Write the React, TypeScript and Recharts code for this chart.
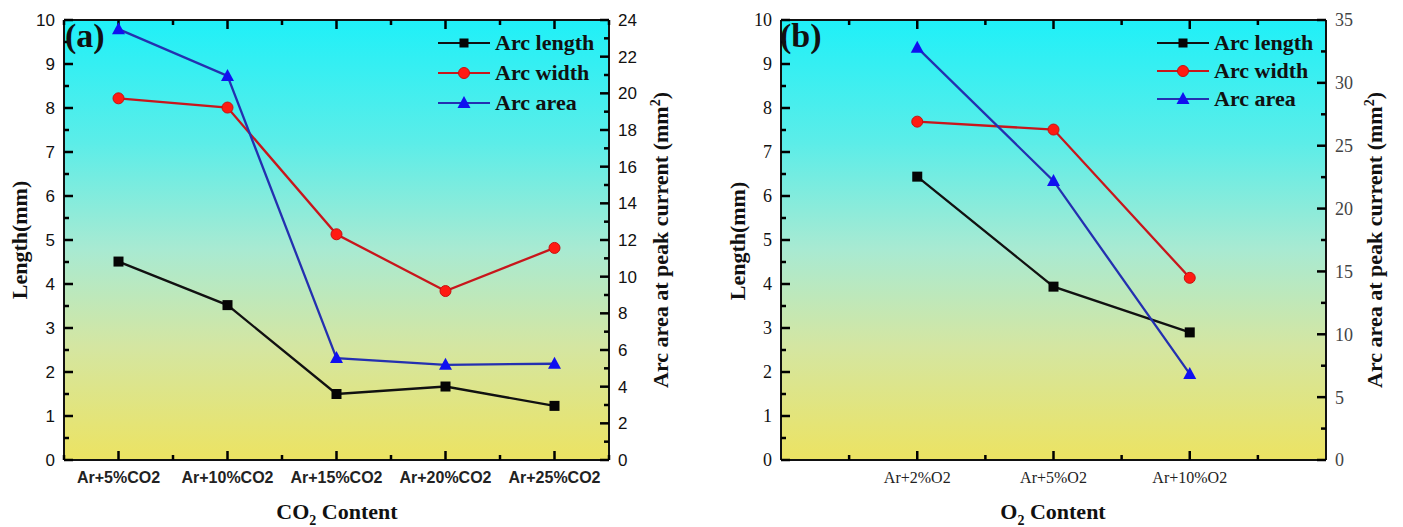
import React from 'react';
import { LineChart, Line, XAxis, YAxis } from 'recharts';

// (a) CO2 series
const co2Categories = ['Ar+5%CO2', 'Ar+10%CO2', 'Ar+15%CO2', 'Ar+20%CO2', 'Ar+25%CO2'];
const co2ArcLength = [4.51, 3.52, 1.5, 1.67, 1.23];
const co2ArcWidth = [8.22, 8.01, 5.13, 3.84, 4.82];
const co2ArcArea = [23.5, 20.95, 5.56, 5.19, 5.25];

// (b) O2 series
const o2Categories = ['Ar+2%O2', 'Ar+5%O2', 'Ar+10%O2'];
const o2ArcLength = [6.44, 3.94, 2.9];
const o2ArcWidth = [7.69, 7.51, 4.14];
const o2ArcArea = [32.8, 22.2, 6.85];

// axis ticks (major carry labels, minor are short marks only)
const lengthMajor = [0, 1, 2, 3, 4, 5, 6, 7, 8, 9, 10];
const lengthMinor = [0.5, 1.5, 2.5, 3.5, 4.5, 5.5, 6.5, 7.5, 8.5, 9.5];
const co2AreaMajor = [0, 2, 4, 6, 8, 10, 12, 14, 16, 18, 20, 22, 24];
const co2AreaMinor = [1, 3, 5, 7, 9, 11, 13, 15, 17, 19, 21, 23];
const o2AreaMajor = [0, 5, 10, 15, 20, 25, 30, 35];
const o2AreaMinor = [2.5, 7.5, 12.5, 17.5, 22.5, 27.5, 32.5];
const co2XMajor = [1, 2, 3, 4, 5];
const co2XMinor = [0.5, 1.5, 2.5, 3.5, 4.5, 5.5];
const o2XMajor = [1, 2, 3];
const o2XMinor = [0.5, 1.5, 2.5, 3.5];

const SANS = "'Liberation Sans', Arial, sans-serif";
const SERIF = "'Liberation Serif', 'Times New Roman', serif";

const co2Data = co2Categories.map((c, i) => ({
  x: i + 1,
  name: c,
  length: co2ArcLength[i],
  width: co2ArcWidth[i],
  area: co2ArcArea[i],
}));
const o2Data = o2Categories.map((c, i) => ({
  x: i + 1,
  name: c,
  length: o2ArcLength[i],
  width: o2ArcWidth[i],
  area: o2ArcArea[i],
}));

const MAJOR = 9;
const MINOR = 5;
const blank = () => '';

const Square = ({ cx, cy, s = 10 }: any) => <rect x={cx - s / 2} y={cy - s / 2} width={s} height={s} fill="#050505" />;
const Circle = ({ cx, cy }: any) => <circle cx={cx} cy={cy} r={5.5} fill="#ff1a12" stroke="#c81010" strokeWidth={1} />;
const Triangle = ({ cx, cy }: any) => (
  <polygon points={`${cx},${cy - 7} ${cx - 6.5},${cy + 5} ${cx + 6.5},${cy + 5}`} fill="#1010f0" />
);

const series = [
  { key: 'length', name: 'Arc length', line: '#111111', axis: 'len', Marker: Square },
  { key: 'width', name: 'Arc width', line: '#c8161c', axis: 'len', Marker: Circle },
  { key: 'area', name: 'Arc area', line: '#2430b0', axis: 'area', Marker: Triangle },
];

function LegendBox({ x, y, rowGap }: { x: number; y: number; rowGap: number }) {
  return (
    <g>
      {series.map((s, i) => {
        const cy = y + i * rowGap;
        const M = s.Marker;
        return (
          <g key={s.key}>
            <line x1={x} x2={x + 52} y1={cy} y2={cy} stroke={s.line} strokeWidth={2.2} />
            <M cx={x + 26} cy={cy} s={9} />
            <text x={x + 57} y={cy} dy="0.33em" style={{ fontFamily: SERIF, fontWeight: 'bold', fontSize: 22, fill: '#111' }}>
              {s.name}
            </text>
          </g>
        );
      })}
    </g>
  );
}

type PanelProps = {
  data: any[];
  labels: string[];
  xDomain: [number, number];
  xMajor: number[];
  xMinor: number[];
  areaMax: number;
  areaMajor: number[];
  areaMinor: number[];
  margin: { top: number; right: number; bottom: number; left: number };
  width: number;
  xFont: any;
  yFont: any;
  rFont: any;
};

const BG = 'linear-gradient(to bottom, #1ff0f8 0%, #5cede8 28%, #a8ead2 52%, #d4e6a2 74%, #ece362 100%)';
const frame = { stroke: '#111', strokeWidth: 2 };
const tickMark = { stroke: '#000', strokeWidth: 2.5 };

// invisible carrier series so that every helper axis has data and draws its ticks
const carriers = [
  { x: 'top', y: 'lenMinor', key: 'length' },
  { x: 'bottomMinor', y: 'areaMinor', key: 'area' },
  { x: 'topMinor', y: 'len', key: 'length' },
];

function Panel(p: PanelProps) {
  const m = p.margin;
  return (
    <div style={{ position: 'relative', width: p.width, height: 527 }}>
      {/* plot background, behind the transparent chart svg */}
      <div
        style={{
          position: 'absolute',
          left: m.left + 40,
          top: m.top + 5,
          width: p.width - m.left - m.right - 80,
          height: 527 - m.top - m.bottom - 45,
          background: BG,
        }}
      />
      <div style={{ position: 'absolute', left: 0, top: 0 }}>
        <LineChart width={p.width} height={527} data={p.data} margin={m}>
          <XAxis
            xAxisId="bottom"
            type="number"
            dataKey="x"
            domain={p.xDomain}
            ticks={p.xMajor}
            height={40}
            tickSize={-MAJOR}
            tickMargin={21}
            tickLine={tickMark}
            axisLine={frame}
            tick={p.xFont}
            tickFormatter={(v: number) => p.labels[v - 1] ?? ''}
          />
          <XAxis
            xAxisId="top"
            orientation="top"
            type="number"
            dataKey="x"
            domain={p.xDomain}
            ticks={p.xMajor}
            height={5}
            tickSize={-MAJOR}
            tickLine={tickMark}
            axisLine={frame}
            tickFormatter={blank}
          />
          <YAxis
            yAxisId="len"
            domain={[0, 10]}
            ticks={lengthMajor}
            width={40}
            tickSize={-MAJOR}
            tickMargin={18}
            tickLine={tickMark}
            axisLine={frame}
            tick={p.yFont}
          />
          <YAxis
            yAxisId="area"
            orientation="right"
            domain={[0, p.areaMax]}
            ticks={p.areaMajor}
            width={40}
            tickSize={-MAJOR}
            tickMargin={18}
            tickLine={tickMark}
            axisLine={frame}
            tick={p.rFont}
          />
          {/* minor ticks: mirrored axes take no space and point inward */}
          <XAxis xAxisId="bottomMinor" mirror type="number" dataKey="x" domain={p.xDomain} ticks={p.xMinor}
            height={1} tickSize={MINOR} tickLine={tickMark} axisLine={false} tickFormatter={blank} />
          <XAxis xAxisId="topMinor" orientation="top" mirror type="number" dataKey="x" domain={p.xDomain} ticks={p.xMinor}
            height={1} tickSize={MINOR} tickLine={tickMark} axisLine={false} tickFormatter={blank} />
          <YAxis yAxisId="lenMinor" mirror domain={[0, 10]} ticks={lengthMinor}
            width={1} tickSize={MINOR} tickLine={tickMark} axisLine={false} tickFormatter={blank} />
          <YAxis yAxisId="areaMinor" orientation="right" mirror domain={[0, p.areaMax]} ticks={p.areaMinor}
            width={1} tickSize={MINOR} tickLine={tickMark} axisLine={false} tickFormatter={blank} />
          {carriers.map((c) => (
            <Line
              key={`${c.x}-${c.y}`}
              xAxisId={c.x}
              yAxisId={c.y}
              dataKey={c.key}
              stroke="none"
              dot={false}
              activeDot={false}
              legendType="none"
              isAnimationActive={false}
            />
          ))}
          {series.map((s) => (
            <Line
              key={s.key}
              xAxisId="bottom"
              yAxisId={s.axis}
              dataKey={s.key}
              name={s.name}
              stroke={s.line}
              strokeWidth={2.3}
              isAnimationActive={false}
              dot={(d: any) => <s.Marker key={`${s.key}-${d.index}`} cx={d.cx} cy={d.cy} />}
              activeDot={false}
            />
          ))}
        </LineChart>
      </div>
    </div>
  );
}

const titleStyle: React.CSSProperties = { fontFamily: SERIF, fontWeight: 'bold', fontSize: 22, fill: '#111' };

export default function App() {
  return (
    <div style={{ position: 'absolute', left: 0, top: 0, width: 1403, height: 527, background: '#fff' }}>
      <div style={{ position: 'absolute', left: 0, top: 0 }}>
        <Panel
          width={700}
          data={co2Data}
          labels={co2Categories}
          xDomain={[0.5, 5.5]}
          xMajor={co2XMajor}
          xMinor={co2XMinor}
          areaMax={24}
          areaMajor={co2AreaMajor}
          areaMinor={co2AreaMinor}
          margin={{ top: 15, right: 51, bottom: 27, left: 24 }}
          xFont={{ fontFamily: SANS, fontWeight: 'bold', fontSize: 16, fill: '#222' }}
          yFont={{ fontFamily: SANS, fontSize: 17, fill: '#111' }}
          rFont={{ fontFamily: SANS, fontSize: 17, fill: '#111' }}
        />
      </div>
      <div style={{ position: 'absolute', left: 700, top: 0 }}>
        <Panel
          width={703}
          data={o2Data}
          labels={o2Categories}
          xDomain={[0, 4]}
          xMajor={o2XMajor}
          xMinor={o2XMinor}
          areaMax={35}
          areaMajor={o2AreaMajor}
          areaMinor={o2AreaMinor}
          margin={{ top: 15, right: 37, bottom: 27, left: 41 }}
          xFont={{ fontFamily: SERIF, fontSize: 16, fill: '#222' }}
          yFont={{ fontFamily: SERIF, fontSize: 18, fill: '#111' }}
          rFont={{ fontFamily: SERIF, fontSize: 18, fill: '#444' }}
        />
      </div>
      <svg width={1403} height={527} style={{ position: 'absolute', left: 0, top: 0, pointerEvents: 'none' }}>
        <LegendBox x={438} y={43} rowGap={30} />
        <LegendBox x={1157} y={43} rowGap={28} />

        <text x={65} y={47} style={{ fontFamily: SERIF, fontWeight: 'bold', fontSize: 34, fill: '#111' }}>(a)</text>
        <text x={780} y={47} style={{ fontFamily: SERIF, fontWeight: 'bold', fontSize: 34, fill: '#111' }}>(b)</text>

        <text x={27} y={240} textAnchor="middle" transform="rotate(-90 27 240)" style={titleStyle}>Length(mm)</text>
        <text x={745} y={241} textAnchor="middle" transform="rotate(-90 745 241)" style={titleStyle}>Length(mm)</text>

        <text x={668} y={240} textAnchor="middle" transform="rotate(-90 668 240)" style={titleStyle}>
          Arc area at peak current (mm<tspan dy={-8} fontSize={14}>2</tspan><tspan dy={8}>)</tspan>
        </text>
        <text x={1382} y={240} textAnchor="middle" transform="rotate(-90 1382 240)" style={titleStyle}>
          Arc area at peak current (mm<tspan dy={-8} fontSize={14}>2</tspan><tspan dy={8}>)</tspan>
        </text>

        <text x={337} y={519} textAnchor="middle" style={titleStyle}>
          CO<tspan dy={6} fontSize={14}>2</tspan><tspan dy={-6}> Content</tspan>
        </text>
        <text x={1053} y={519} textAnchor="middle" style={titleStyle}>
          O<tspan dy={6} fontSize={14}>2</tspan><tspan dy={-6}> Content</tspan>
        </text>
      </svg>
    </div>
  );
}
